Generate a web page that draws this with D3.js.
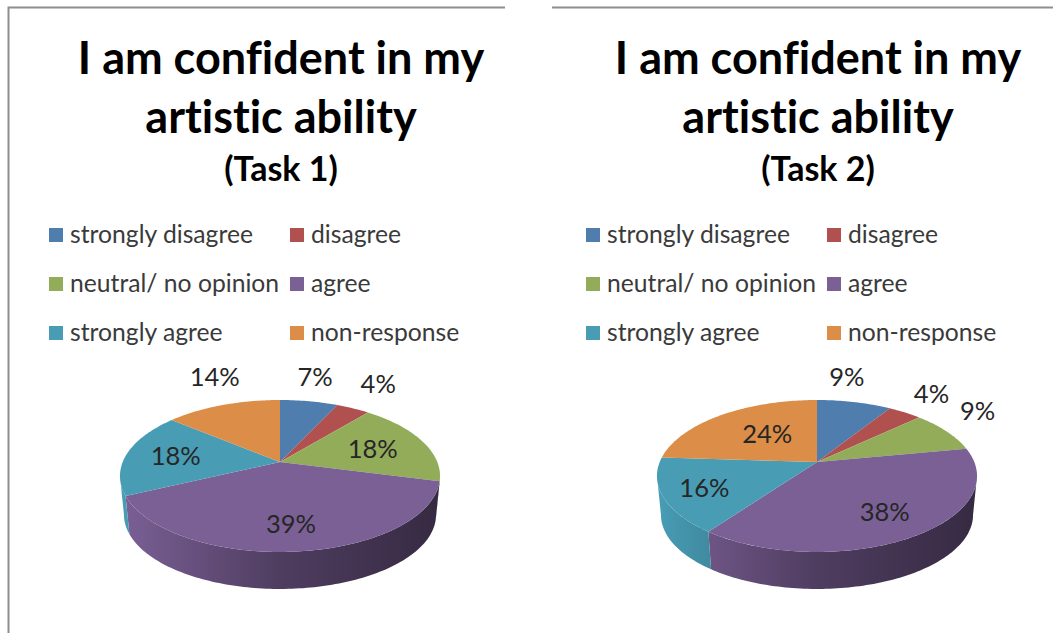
<!DOCTYPE html>
<html>
<head>
<meta charset="utf-8">
<script src="https://cdn.jsdelivr.net/npm/d3@7"></script>
<style>
  html, body { margin: 0; padding: 0; background: #fff; }
  svg { display: block; }
  text { font-family: Lato, "Open Sans", sans-serif; font-variant-ligatures: none; }
</style>
</head>
<body>
<script>
// Survey responses, in percent, for each task
const categories = ["strongly disagree", "disagree", "neutral/ no opinion", "agree", "strongly agree", "non-response"];
const task1Values = [7, 4, 18, 39, 18, 14];
const task2Values = [9, 4, 9, 38, 16, 24];
const titleLines = ["I am confident in my", "artistic ability"];
const taskLabels = ["(Task 1)", "(Task 2)"];
const sliceColors = ["#4f7dae", "#b0504f", "#93ac5a", "#7b6096", "#489db5", "#dc8d47"];

// Label placement per slice: radius fraction along the mid-angle, then a nudge
const task1Labels = [[1.25, 0, -11], [1.25, 10, -12], [0.6, 6, 1], [0.6, 1, 14], [0.6, -12, 0], [1.25, 4, -15]];
const task2Labels = [[1.25, -15, -12], [1.25, 8, -7], [1.25, 2, -12], [0.6, 12, 10], [0.6, -23, 7], [0.6, 10, 3]];

const width = 1053, height = 633;
const svg = d3.select("body").append("svg").attr("width", width).attr("height", height);
const defs = svg.append("defs");

// Frame lines of the two chart panels
const frame = svg.append("g").attr("stroke", "#8e8e8e").attr("stroke-width", 2).attr("fill", "none");
frame.append("path").attr("d", `M8.5,${height}V7.5H505`);
frame.append("path").attr("d", `M552,7.5H${width}`);

// Perspective tilt of the disc: the centre sits above the middle of the ellipse
const tilt = -0.184, radiusX = 157.3, radiusY = 73.4;
const wallShrink = 0.975, wallShift = 39.25;

function project(angle, fraction) {
  const u = fraction * Math.sin(angle), v = -fraction * Math.cos(angle), w = 1 + tilt * v;
  return [radiusX * u / w, radiusY * v / w];
}
const rimTop = a => project(a, 1);
const rimBottom = a => {
  const [x, y] = project(a, 1);
  return [x * wallShrink, y * wallShrink + wallShift];
};
const sampleAngles = (a0, a1) => {
  const n = Math.max(2, Math.ceil((a1 - a0) / 0.02));
  return d3.range(n + 1).map(i => a0 + (a1 - a0) * i / n);
};
const line = d3.line();
const pie = d3.pie().sort(null).value(d => d);

function drawChart(index, values, labelLayout, cx, cy, titleX) {
  const g = svg.append("g");

  // Title block
  const title = g.append("g").attr("text-anchor", "middle").attr("fill", "#000").attr("font-weight", 700);
  titleLines.forEach((t, i) => title.append("text").attr("x", titleX).attr("y", 74 + i * 58.5).attr("font-size", 45).text(t));
  title.append("text").attr("x", titleX).attr("y", 181).attr("font-size", 34).text(taskLabels[index]);

  // Legend: two columns, three rows
  const legendX = d3.scalePoint().domain([0, 1]).range([titleX - 232, titleX + 9]);
  const legendY = d3.scalePoint().domain([0, 1, 2]).range([235, 333]);
  const legend = g.append("g").selectAll("g").data(categories).join("g")
    .attr("transform", (d, i) => `translate(${legendX(i % 2)},${legendY(Math.floor(i / 2))})`);
  legend.append("rect").attr("x", 0).attr("y", -7).attr("width", 14).attr("height", 14).attr("fill", (d, i) => sliceColors[i]);
  legend.append("text").attr("x", 21).attr("y", 8).attr("font-size", 24.7).attr("fill", "#3a3a3a").text(d => d);

  // Pie
  const arcs = pie(values);
  const plot = g.append("g").attr("transform", `translate(${cx},${cy})`);

  // Side wall, visible only on the front part of the rim
  const front0 = Math.acos(tilt), front1 = 2 * Math.PI - front0;
  arcs.forEach((arc, i) => {
    const a0 = Math.max(arc.startAngle, front0), a1 = Math.min(arc.endAngle, front1);
    if (a1 <= a0) return;
    const base = d3.color(sliceColors[i]);
    const shade = f => d3.rgb(base.r * f, base.g * f, base.b * f).formatHex();
    const id = `wall-${index}-${i}`;
    const grad = defs.append("linearGradient").attr("id", id).attr("gradientUnits", "userSpaceOnUse")
      .attr("x1", -160).attr("x2", 160).attr("y1", 0).attr("y2", 0);
    [[0, 1], [0.5, 0.64], [1, 0.44]].forEach(([o, f]) => grad.append("stop").attr("offset", o).attr("stop-color", shade(f)));
    const angles = sampleAngles(a0, a1);
    const outline = angles.map(rimTop).concat(angles.slice().reverse().map(rimBottom));
    plot.append("path").attr("d", line(outline) + "Z").attr("fill", `url(#${id})`);
  });

  // Top face
  plot.selectAll("path.slice").data(arcs).join("path").attr("class", "slice")
    .attr("fill", (d, i) => sliceColors[i])
    .attr("d", d => line([[0, 0], ...sampleAngles(d.startAngle, d.endAngle).map(rimTop)]) + "Z");

  // Percentage labels
  plot.selectAll("text").data(arcs).join("text")
    .attr("text-anchor", "middle").attr("font-size", 25.5).attr("fill", "#262626")
    .attr("transform", (d, i) => {
      const [f, dx, dy] = labelLayout[i];
      const [x, y] = project((d.startAngle + d.endAngle) / 2, f);
      return `translate(${x + dx},${y + dy + 8})`;
    })
    .text(d => d.value + "%");
}

drawChart(0, task1Values, task1Labels, 280, 462, 281);
drawChart(1, task2Values, task2Labels, 817, 462, 818);
</script>
</body>
</html>
